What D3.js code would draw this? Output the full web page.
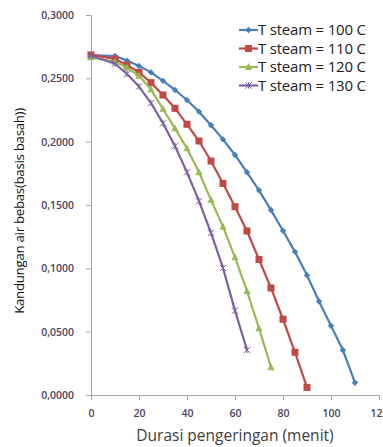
<!DOCTYPE html>
<html>
<head>
<meta charset="utf-8">
<script src="https://cdn.jsdelivr.net/npm/d3@7/dist/d3.min.js"></script>
<style>
  body { margin: 0; background: #fff; }
  svg { display: block; }
</style>
</head>
<body>
<svg width="383" height="447"></svg>
<script>
// durasi (menit) per seri
const time100 = [0, 10, 15, 20, 25, 30, 35, 40, 45, 50, 55, 60, 65, 70, 75, 80, 85, 90, 95, 100, 105, 110];
const time110 = [0, 10, 15, 20, 25, 30, 35, 40, 45, 50, 55, 60, 65, 70, 75, 80, 85, 90];
const time120 = [0, 10, 15, 20, 25, 30, 35, 40, 45, 50, 55, 60, 65, 70, 75];
const time130 = [0, 10, 15, 20, 25, 30, 35, 40, 45, 50, 55, 60, 65];

// kandungan air bebas (basis basah)
const moist100 = [0.2684, 0.2676, 0.2640, 0.2597, 0.2547, 0.2480, 0.2408, 0.2329, 0.2237, 0.2130, 0.2018,
  0.1895, 0.1758, 0.1616, 0.1460, 0.1297, 0.1130, 0.0945, 0.0740, 0.0547, 0.0353, 0.0097];
const moist110 = [0.2685, 0.2653, 0.2605, 0.2547, 0.2466, 0.2368, 0.2263, 0.2137, 0.2005, 0.1847, 0.1670,
  0.1487, 0.1295, 0.1070, 0.0845, 0.0598, 0.0337, 0.0060];
const moist120 = [0.2665, 0.2630, 0.2585, 0.2520, 0.2413, 0.2258, 0.2105, 0.1947, 0.1758, 0.1540, 0.1329,
  0.1087, 0.0820, 0.0527, 0.0219];
const moist130 = [0.2680, 0.2615, 0.2535, 0.2435, 0.2305, 0.2145, 0.1965, 0.1758, 0.1530, 0.1280, 0.1003,
  0.0666, 0.0355];

const seriesNames = ["T steam = 100 C", "T steam = 110 C", "T steam = 120 C", "T steam = 130 C"];
const xTicks = [0, 20, 40, 60, 80, 100, 120];
const yTicks = [0, 0.05, 0.1, 0.15, 0.2, 0.25, 0.3];

const series = [
  { name: seriesNames[0], x: time100, y: moist100, color: "#4a7ebb", marker: "diamond" },
  { name: seriesNames[1], x: time110, y: moist110, color: "#be4b48", marker: "square" },
  { name: seriesNames[2], x: time120, y: moist120, color: "#98b954", marker: "triangle" },
  { name: seriesNames[3], x: time130, y: moist130, color: "#7d60a0", marker: "star" }
];

const svg = d3.select("svg");

const x = d3.scaleLinear().domain([0, 120]).range([91, 379]);
const y = d3.scaleLinear().domain([0, 0.3]).range([395, 15]);

const axisColor = "#a6a6a6";
const labelColor = "#4b4262";
const fontFam = "'Open Sans', 'DejaVu Sans', sans-serif";

// sumbu x
const gx = svg.append("g")
  .attr("transform", `translate(0,${y(0)})`)
  .call(d3.axisBottom(x).tickValues(xTicks).tickSize(5).tickSizeOuter(0).tickPadding(10));
gx.select(".domain").attr("stroke", axisColor);
gx.selectAll(".tick line").attr("stroke", axisColor);
gx.selectAll(".tick text")
  .attr("fill", labelColor)
  .attr("font-family", fontFam)
  .attr("font-size", 10.5)
  .attr("font-weight", 600);

// sumbu y
const gy = svg.append("g")
  .attr("transform", `translate(${x(0)},0)`)
  .call(d3.axisLeft(y).tickValues(yTicks).tickSize(5).tickSizeOuter(0).tickPadding(12)
    .tickFormat(d => d3.format(".4f")(d).replace(".", ",")));
gy.select(".domain").attr("stroke", axisColor);
gy.selectAll(".tick line").attr("stroke", axisColor);
gy.selectAll(".tick text")
  .attr("fill", labelColor)
  .attr("font-family", fontFam)
  .attr("font-size", 10.5)
  .attr("font-weight", 600);

// judul sumbu
svg.append("text")
  .attr("x", 235)
  .attr("y", 441)
  .attr("text-anchor", "middle")
  .attr("fill", "#404040")
  .attr("font-family", fontFam)
  .attr("font-size", 15.5)
  .text("Durasi pengeringan (menit)");

svg.append("text")
  .attr("transform", "translate(24,211) rotate(-90)")
  .attr("text-anchor", "middle")
  .attr("fill", "#111")
  .attr("font-family", fontFam)
  .attr("font-size", 13.3)
  .attr("letter-spacing", -0.3)
  .text("Kandungan air bebas(basis basah))");

function drawMarker(g, type, color, s) {
  if (type === "diamond") {
    g.append("path").attr("d", `M0,${-s}L${s},0L0,${s}L${-s},0Z`).attr("fill", color);
  } else if (type === "square") {
    g.append("rect").attr("x", -s).attr("y", -s).attr("width", 2 * s).attr("height", 2 * s).attr("fill", color);
  } else if (type === "triangle") {
    g.append("path").attr("d", `M0,${-s * 1.1}L${s},${s * 0.8}L${-s},${s * 0.8}Z`).attr("fill", color);
  } else {
    g.append("path")
      .attr("d", `M${-s},${-s}L${s},${s}M${-s},${s}L${s},${-s}M0,${-s}L0,${s}`)
      .attr("stroke", color).attr("stroke-width", 1).attr("fill", "none");
  }
}

const markerSize = { diamond: 3.2, square: 3.5, triangle: 3.6, star: 3.2 };

const line = d3.line().x(d => x(d[0])).y(d => y(d[1]));

series.forEach(s => {
  const pts = s.x.map((t, i) => [t, s.y[i]]);
  const g = svg.append("g");
  g.append("path")
    .datum(pts)
    .attr("d", line)
    .attr("fill", "none")
    .attr("stroke", s.color)
    .attr("stroke-width", 2.2)
    .attr("stroke-linejoin", "round");
  g.selectAll("g.pt")
    .data(pts)
    .join("g")
    .attr("class", "pt")
    .attr("transform", d => `translate(${x(d[0])},${y(d[1])})`)
    .each(function () { drawMarker(d3.select(this), s.marker, s.color, markerSize[s.marker]); });
});

// legenda
const legend = svg.append("g").attr("transform", "translate(239,30)");
series.forEach((s, i) => {
  const row = legend.append("g").attr("transform", `translate(0,${i * 18.5})`);
  row.append("line").attr("x1", 0).attr("x2", 19).attr("y1", 0).attr("y2", 0)
    .attr("stroke", s.color).attr("stroke-width", 2.2);
  const m = row.append("g").attr("transform", "translate(9.5,0)");
  drawMarker(m, s.marker, s.color, markerSize[s.marker]);
  row.append("text")
    .attr("x", 19)
    .attr("y", 0)
    .attr("dy", "0.35em")
    .attr("fill", "#222")
    .attr("font-family", fontFam)
    .attr("font-size", 15)
    .attr("letter-spacing", -0.2)
    .text(s.name);
});
</script>
</body>
</html>
